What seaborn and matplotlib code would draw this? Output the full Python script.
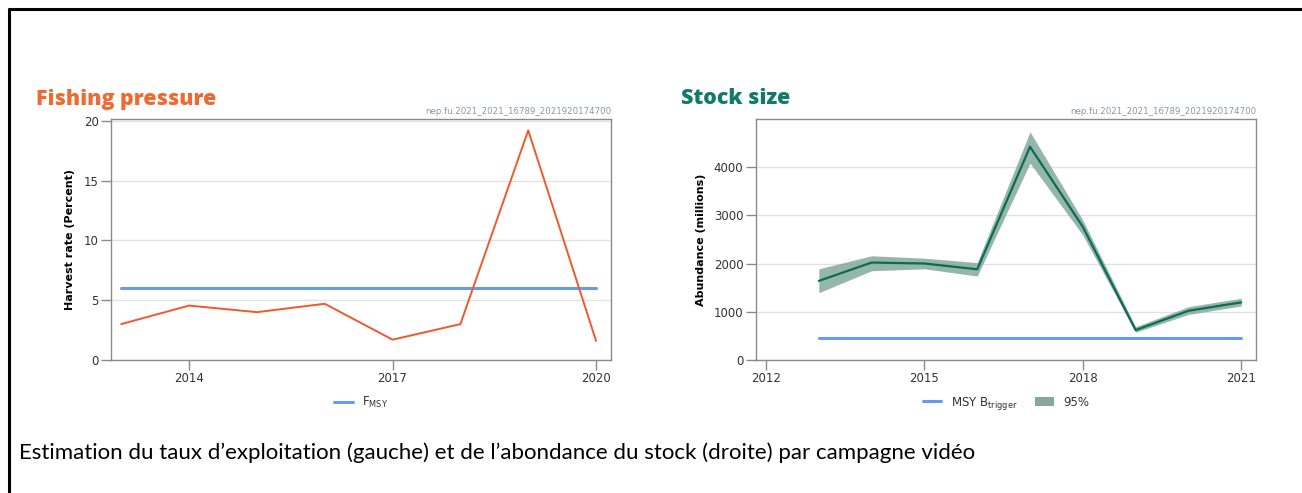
import matplotlib
matplotlib.use("Agg")
import matplotlib.pyplot as plt
from matplotlib.lines import Line2D
from matplotlib.patches import Patch
import seaborn as sns
import pandas as pd

# ---------------- data ----------------
fp_years = [2013, 2014, 2015, 2016, 2017, 2018, 2019, 2020]
harvest_rate = [3.0, 4.55, 4.0, 4.7, 1.7, 3.0, 19.2, 1.6]
fmsy = [6.0] * len(fp_years)

ss_years = [2013, 2014, 2015, 2016, 2017, 2018, 2019, 2020, 2021]
abundance = [1640, 2020, 2000, 1880, 4420, 2760, 620, 1020, 1195]
abund_low = [1395, 1850, 1890, 1740, 4080, 2590, 575, 945, 1120]
abund_high = [1890, 2160, 2110, 2020, 4730, 2900, 690, 1105, 1280]
btrigger = [450] * len(ss_years)

fp_xticks = [2014, 2017, 2020]
ss_xticks = [2012, 2015, 2018, 2021]
fp_yticks = [0, 5, 10, 15, 20]
ss_yticks = [0, 1000, 2000, 3000, 4000]

watermark = "nep.fu.2021_2021_16789_2021920174700"
caption = ("Estimation du taux d\u2019exploitation (gauche) et de l\u2019abondance "
           "du stock (droite) par campagne vid\u00e9o")

# ---------------- style ----------------
sns.set_theme(style="white")
plt.rcParams["font.family"] = ["DejaVu Sans"]

ORANGE = "#f0592b"
ORANGE_T = "#ef6a31"
BLUE = "#6699f2"
GREEN = "#0b6b5a"
GREEN_T = "#127a68"
BAND = "#84a999"
SPINE = "#8a8a8a"
GRID = "#e2e2e2"
TXT = "#333333"

fig = plt.figure(figsize=(13.02, 4.93), dpi=100)
W, H = 1302, 493


def ax_rect(x0, x1, ytop, ybot):
    return [x0 / W, 1 - ybot / H, (x1 - x0) / W, (ybot - ytop) / H]


ax1 = fig.add_axes(ax_rect(111, 611, 119, 360))
ax2 = fig.add_axes(ax_rect(756, 1256, 119, 360))

fp_df = pd.DataFrame({"year": fp_years, "rate": harvest_rate, "fmsy": fmsy})
ss_df = pd.DataFrame({"year": ss_years, "abund": abundance, "lo": abund_low,
                      "hi": abund_high, "btrig": btrigger})

# Left: fishing pressure
sns.lineplot(data=fp_df, x="year", y="fmsy", ax=ax1, color=BLUE, lw=2.2,
             label=r"F$_{\mathregular{MSY}}$", zorder=3)
sns.lineplot(data=fp_df, x="year", y="rate", ax=ax1, color=ORANGE, lw=1.4,
             legend=False, zorder=4)
ax1.set_xlim(2012.85, 2020.22)
ax1.set_ylim(0, 20.15)
ax1.set_xticks(fp_xticks)
ax1.set_yticks(fp_yticks)
ax1.set_ylabel("Harvest rate (Percent)", fontsize=8, fontweight="bold",
               color="black", labelpad=6)

# Right: stock size
ax2.fill_between(ss_df["year"], ss_df["lo"], ss_df["hi"], color=BAND,
                 alpha=0.85, lw=0, zorder=2)
sns.lineplot(data=ss_df, x="year", y="btrig", ax=ax2, color=BLUE, lw=2.2,
             label=r"MSY B$_{\mathregular{trigger}}$", zorder=3)
sns.lineplot(data=ss_df, x="year", y="abund", ax=ax2, color=GREEN, lw=1.6,
             legend=False, zorder=4)
ax2.set_xlim(2011.81, 2021.28)
ax2.set_ylim(0, 4995)
ax2.set_xticks(ss_xticks)
ax2.set_yticks(ss_yticks)
ax2.set_ylabel("Abundance (millions)", fontsize=8, fontweight="bold",
               color="black", labelpad=6)

for ax in (ax1, ax2):
    ax.set_xlabel("")
    ax.grid(axis="y", color=GRID, lw=1.0)
    ax.set_axisbelow(True)
    for s in ax.spines.values():
        s.set_color(SPINE)
        s.set_linewidth(1.0)
    ax.tick_params(axis="both", which="major", direction="out", length=7,
                   width=1, color=SPINE, labelsize=8.5, labelcolor=TXT,
                   bottom=True, left=True, pad=2)
    ax.text(1.0, 1.012, watermark, transform=ax.transAxes, ha="right",
            va="bottom", fontsize=6.2, color="#8c96a0")

# Legends
h1, l1 = ax1.get_legend_handles_labels()
ax1.legend(h1, l1, loc="upper center", bbox_to_anchor=(0.5, -0.1),
           frameon=False, fontsize=8.5, handlelength=1.6, labelcolor=TXT)
h2, l2 = ax2.get_legend_handles_labels()
h2.append(Patch(facecolor=BAND, edgecolor="none"))
l2.append("95%")
ax2.legend(h2, l2, loc="upper center", bbox_to_anchor=(0.5, -0.1),
           frameon=False, fontsize=8.5, handlelength=1.6, ncol=2,
           columnspacing=1.5, labelcolor=TXT)

# Titles
fig.text(36 / W, 1 - 99 / H, "Fishing pressure", fontsize=15.4, fontweight=800,
         color=ORANGE_T, ha="left", va="center", family=["Open Sans", "DejaVu Sans"])
fig.text(681 / W, 1 - 99 / H, "Stock size", fontsize=15.4, fontweight=800,
         color=GREEN_T, ha="left", va="center", family=["Open Sans", "DejaVu Sans"])

# Caption
fig.text(19 / W, 1 - 453 / H, caption, fontsize=16, color="black",
         ha="left", va="center", family=["Lato", "DejaVu Sans"])

# Frame border (top and left)
fig.add_artist(Line2D([9 / W, 1.0], [1 - 9 / H, 1 - 9 / H], color="black",
                      lw=2.2, transform=fig.transFigure))
fig.add_artist(Line2D([9 / W, 9 / W], [0.0, 1 - 9 / H], color="black",
                      lw=2.2, transform=fig.transFigure))

fig.savefig("out.png", dpi=100)
